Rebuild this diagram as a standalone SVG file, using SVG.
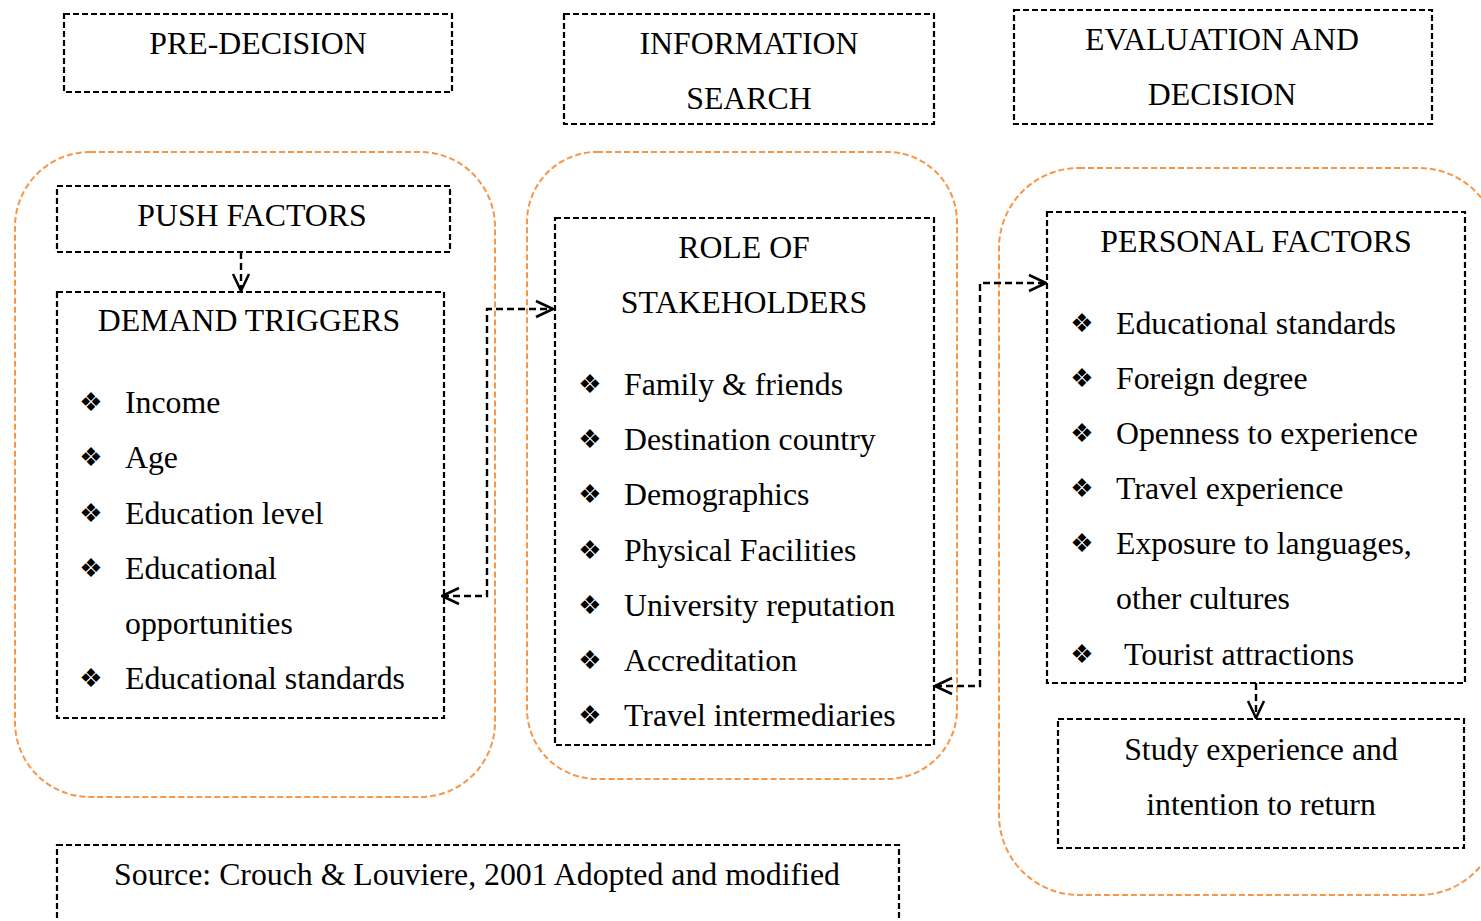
<svg xmlns="http://www.w3.org/2000/svg" width="1481" height="921" viewBox="0 0 1481 921">
<style>
.box{fill:none;stroke:#000;stroke-width:2.2;stroke-dasharray:6 3}
.grp{fill:none;stroke:#F79646;stroke-width:2;stroke-dasharray:6 3}
.t{font-family:"Liberation Serif","Times New Roman",serif;font-size:31.8px;fill:#000}
.c{text-anchor:middle}
.b{font-family:"DejaVu Sans",sans-serif;font-size:26px;fill:#000;text-anchor:middle}
.con{fill:none;stroke:#000;stroke-width:2.4;stroke-dasharray:7 4}
</style>
<defs>
<marker id="ah" viewBox="0 0 20 20" refX="19" refY="10" markerWidth="20" markerHeight="20" markerUnits="userSpaceOnUse" orient="auto-start-reverse">
<path d="M2,2 L19,10 L2,18" fill="none" stroke="#000" stroke-width="2.5"/>
</marker>
</defs>
<rect width="1481" height="921" fill="#fff"/>

<g id="stage-predecision">
<rect class="box" x="64" y="14" width="388" height="78"/>
<text class="t c" x="258" y="54">PRE-DECISION</text>
</g>
<g id="stage-info">
<rect class="box" x="564" y="14" width="370" height="110"/>
<text class="t c" x="749" y="54">INFORMATION</text>
<text class="t c" x="749" y="109">SEARCH</text>
</g>
<g id="stage-eval">
<rect class="box" x="1014" y="10" width="418" height="114"/>
<text class="t c" x="1222" y="50">EVALUATION AND</text>
<text class="t c" x="1222" y="105">DECISION</text>
</g>

<g id="group-left"><rect class="grp" x="15" y="152" width="480" height="645" rx="75"/></g>
<g id="group-mid"><rect class="grp" x="527" y="152" width="430" height="627" rx="70"/></g>
<g id="group-right"><rect class="grp" x="999" y="168" width="500" height="727" rx="80"/></g>

<g id="push-factors">
<rect class="box" x="57" y="186" width="393" height="66"/>
<text class="t c" x="252" y="226">PUSH FACTORS</text>
</g>

<g id="demand-triggers">
<rect class="box" x="57" y="292" width="387" height="426"/>
<text class="t c" x="249" y="331">DEMAND TRIGGERS</text>
<text class="b" x="91" y="411">❖</text><text class="t" x="125" y="413">Income</text>
<text class="b" x="91" y="466">❖</text><text class="t" x="125" y="468">Age</text>
<text class="b" x="91" y="522">❖</text><text class="t" x="125" y="524">Education level</text>
<text class="b" x="91" y="577">❖</text><text class="t" x="125" y="579">Educational</text>
<text class="t" x="125" y="634">opportunities</text>
<text class="b" x="91" y="687">❖</text><text class="t" x="125" y="689">Educational standards</text>
</g>

<g id="stakeholders">
<rect class="box" x="555" y="218" width="379" height="527"/>
<text class="t c" x="744" y="258">ROLE OF</text>
<text class="t c" x="744" y="313">STAKEHOLDERS</text>
<text class="b" x="590" y="393">❖</text><text class="t" x="624" y="395">Family &amp; friends</text>
<text class="b" x="590" y="448">❖</text><text class="t" x="624" y="450">Destination country</text>
<text class="b" x="590" y="503">❖</text><text class="t" x="624" y="505">Demographics</text>
<text class="b" x="590" y="559">❖</text><text class="t" x="624" y="561">Physical Facilities</text>
<text class="b" x="590" y="614">❖</text><text class="t" x="624" y="616">University reputation</text>
<text class="b" x="590" y="669">❖</text><text class="t" x="624" y="671">Accreditation</text>
<text class="b" x="590" y="724">❖</text><text class="t" x="624" y="726">Travel intermediaries</text>
</g>

<g id="personal-factors">
<rect class="box" x="1047" y="212" width="418" height="471"/>
<text class="t c" x="1256" y="252">PERSONAL FACTORS</text>
<text class="b" x="1082" y="332">❖</text><text class="t" x="1116" y="334">Educational standards</text>
<text class="b" x="1082" y="387">❖</text><text class="t" x="1116" y="389">Foreign degree</text>
<text class="b" x="1082" y="442">❖</text><text class="t" x="1116" y="444">Openness to experience</text>
<text class="b" x="1082" y="497">❖</text><text class="t" x="1116" y="499">Travel experience</text>
<text class="b" x="1082" y="552">❖</text><text class="t" x="1116" y="554">Exposure to languages,</text>
<text class="t" x="1116" y="609">other cultures</text>
<text class="b" x="1082" y="663">❖</text><text class="t" x="1124" y="665">Tourist attractions</text>
</g>

<g id="study-experience">
<rect class="box" x="1058" y="719" width="406" height="129"/>
<text class="t c" x="1261" y="760">Study experience and</text>
<text class="t c" x="1261" y="815">intention to return</text>
</g>

<g id="source">
<rect class="box" x="57" y="845" width="842" height="90"/>
<text class="t c" x="477" y="885">Source: Crouch &amp; Louviere, 2001 Adopted and modified</text>
</g>

<g id="connectors">
<path class="con" d="M241,252 L241,291" marker-end="url(#ah)"/>
<path class="con" d="M442,596 L487,596 L487,309 L553,309" marker-start="url(#ah)" marker-end="url(#ah)"/>
<path class="con" d="M935,686 L980,686 L980,283 L1046,283" marker-start="url(#ah)" marker-end="url(#ah)"/>
<path class="con" d="M1256,683 L1256,718" marker-end="url(#ah)"/>
</g>
</svg>
